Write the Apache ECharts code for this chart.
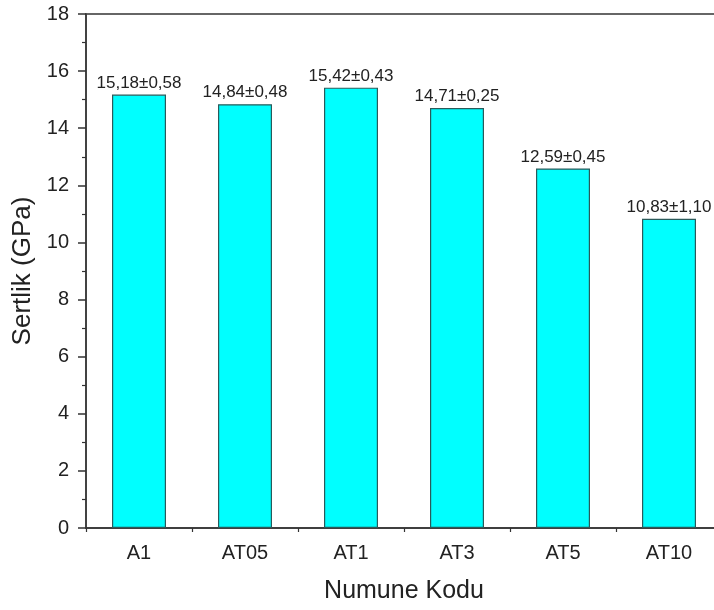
<!DOCTYPE html>
<html><head><meta charset="utf-8">
<script src="https://cdn.jsdelivr.net/npm/echarts@6/dist/echarts.min.js"></script>
<style>html,body{margin:0;padding:0;background:#fff}#c{width:714px;height:610px}</style>
</head><body><div id="c"></div>
<script>
const categories = ['A1','AT05','AT1','AT3','AT5','AT10'];
const hardness = [15.18,14.84,15.42,14.71,12.59,10.83];
const labels = ['15,18±0,58','14,84±0,48','15,42±0,43','14,71±0,25','12,59±0,45','10,83±1,10'];
const yTicks = {min:0,max:18,interval:2};

const font = 'Liberation Sans, Arial, sans-serif';
const chart = echarts.init(document.getElementById('c'));
chart.setOption({
  animation:false,
  grid:{left:86,top:14,right:-8,bottom:82,outerBoundsMode:'none',containLabel:false,
    show:true,borderColor:'#666',borderWidth:1.8,backgroundColor:'transparent'},
  xAxis:[{
    type:'category',data:categories,position:'bottom',
    name:'Numune Kodu',nameLocation:'middle',nameGap:51,
    nameTextStyle:{fontFamily:font,fontSize:25,color:'#222'},
    axisLine:{lineStyle:{color:'#333',width:1.5}},
    axisTick:{alignWithLabel:true,length:8,lineStyle:{color:'#333',width:1.5}},
    axisLabel:{fontFamily:font,fontSize:20,color:'#222',margin:15}
  },{
    type:'category',data:categories,position:'top',offset:-514,
    axisLine:{show:false},
    axisTick:{show:true,inside:true,length:4,lineStyle:{color:'#333',width:1.2}},
    axisLabel:{show:false}
  }],
  yAxis:{
    type:'value',min:yTicks.min,max:yTicks.max,interval:yTicks.interval,
    name:'Sertlik (GPa)',nameLocation:'middle',nameGap:46,
    nameTextStyle:{fontFamily:font,fontSize:26,color:'#222'},
    axisLine:{show:true,lineStyle:{color:'#333',width:1.5}},
    axisTick:{show:true,length:8,lineStyle:{color:'#333',width:1.5}},
    minorTick:{show:true,splitNumber:2,length:4,lineStyle:{color:'#333',width:1.2}},
    splitLine:{show:false},
    axisLabel:{fontFamily:font,fontSize:20,color:'#222',margin:17}
  },
  series:[{
    type:'bar',data:hardness,barWidth:54,xAxisIndex:0,
    itemStyle:{color:'#00FFFF',borderColor:'#2a5a5a',borderWidth:1.2},
    label:{show:true,position:'top',distance:3,fontFamily:font,fontSize:17,color:'#222',
      formatter:p=>labels[p.dataIndex]}
  }]
});
</script></body></html>
